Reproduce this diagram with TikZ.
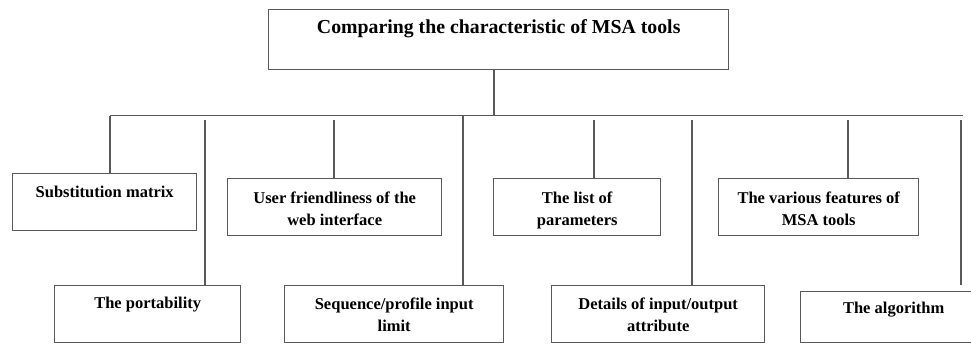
\documentclass[tikz,border=0pt]{standalone}
\usepackage{fontspec}
\setmainfont{Liberation Serif}
% box contents: width, height, first baseline, text
\newcommand{\boxtext}[4]{\parbox[t][#2pt][t]{#1pt}{\centering\rule{0pt}{#3pt}#4}}
\begin{document}
\begin{tikzpicture}[
  x=1pt, y=-1pt,
  line width=1.4pt,
  color=black!65,
  box/.style={draw, rectangle, anchor=north west, inner sep=0pt, text=black,
    font=\bfseries\fontsize{16.5}{22}\selectfont},
  titlebox/.style={box, font=\bfseries\fontsize{19.8}{22}\selectfont}
]
\useasboundingbox (0,0) rectangle (971,345);
% title and the bus line
\node[titlebox] (title) at (268,9) {\boxtext{460}{60}{24}{Comparing the characteristic of MSA tools}};
\coordinate (busL) at (110,115.5);
\coordinate (busR) at (963,115.5);
\coordinate (stem) at (494,115.5);
\draw (stem |- title.south) -- (stem);
\draw (busL) -- (busR);

% upper row
\node[box] (subst) at (12,173) {\boxtext{184}{57}{24}{Substitution matrix}};
\node[box] (user) at (227,178) {\boxtext{214}{57}{25}{User friendliness of the\\web interface}};
\node[box] (list) at (493,178) {\boxtext{167}{57}{25}{The list of\\parameters}};
\node[box] (feat) at (718,178) {\boxtext{200}{57}{25}{The various features of\\MSA tools}};

% lower row
\node[box] (port) at (54,285) {\boxtext{186}{57}{23}{The portability}};
\node[box] (seq) at (284,285) {\boxtext{219}{57}{24}{Sequence/profile input\\limit}};
\node[box] (det) at (551,285) {\boxtext{213}{57}{24}{Details of input/output\\attribute}};
\node[box] (algo) at (800,291) {\boxtext{186}{51}{22}{The algorithm}};

% drops
\coordinate (d1) at (110,115.5);
\coordinate (d2) at (205,120);
\coordinate (d3) at (334,120);
\coordinate (d4) at (463,115.5);
\coordinate (d5) at (594,120);
\coordinate (d6) at (692,120);
\coordinate (d7) at (848,120);
\coordinate (d8) at (961,120);
\draw (d1) -- (d1 |- subst.north);
\draw (d2) -- (d2 |- port.north);
\draw (d3) -- (d3 |- user.north);
\draw (d4) -- (d4 |- seq.north);
\draw (d5) -- (d5 |- list.north);
\draw (d6) -- (d6 |- det.north);
\draw (d7) -- (d7 |- feat.north);
\draw (d8) -- ([yshift=6pt]d8 |- algo.north);
\end{tikzpicture}
\end{document}
